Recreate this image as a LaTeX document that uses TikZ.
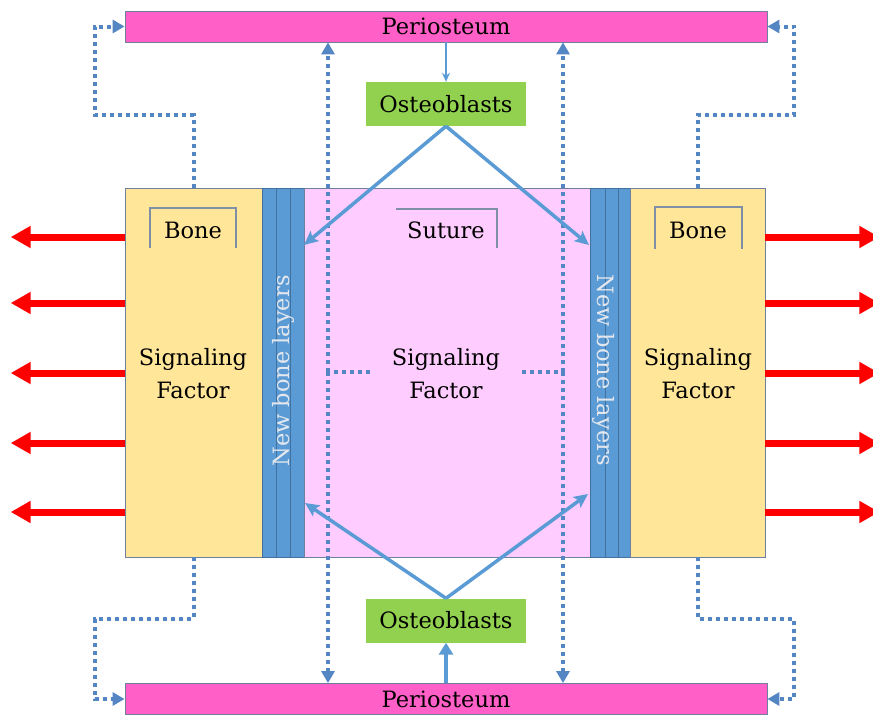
\documentclass[tikz,border=0pt]{standalone}
\usepackage{fontspec}
\setmainfont{DejaVu Serif}
\usetikzlibrary{arrows.meta}
\definecolor{peri}{HTML}{FF5FC6}
\definecolor{osteo}{HTML}{92D050}
\definecolor{bonec}{HTML}{FFE699}
\definecolor{suturec}{HTML}{FFCCFF}
\definecolor{layerc}{HTML}{5B9BD5}
\definecolor{layerline}{HTML}{41719C}
\definecolor{arrowc}{HTML}{5B9BD5}
\definecolor{dotc}{HTML}{5486C4}
\definecolor{edgec}{HTML}{6F7F9F}
\definecolor{bracketc}{HTML}{7F8FA6}
\definecolor{layertext}{HTML}{E4E8EE}
\tikzset{
  txt/.style={font=\fontsize{22.5}{33}\selectfont, text=black, inner sep=0pt},
  periobox/.style={draw=edgec, line width=0.8pt, fill=peri, minimum width=642pt, minimum height=31pt, inner sep=0pt, txt},
  osteobox/.style={fill=osteo, minimum width=160pt, minimum height=44pt, inner sep=0pt, txt},
  blockbox/.style={draw=edgec, line width=0.6pt, minimum height=369pt, inner sep=0pt},
  dotline/.style={draw=dotc, line width=4pt, dash pattern=on 4pt off 4pt},
  dotarrow/.style={dotline, -{Triangle[length=12pt,width=13pt]}},
  bluearrow/.style={draw=arrowc, line width=3.5pt, -{Stealth[length=14pt,width=13pt,inset=3pt]}},
  redarrow/.style={draw=red, line width=7pt, -{Triangle[length=20pt,width=21pt]}},
  bracket/.style={draw=bracketc, line width=1.2pt},
  layerlbl/.style={font=\fontsize{22.5}{26}\selectfont, text=layertext, inner sep=0pt}
}
\begin{document}
\begin{tikzpicture}[x=1pt,y=-1pt]
\useasboundingbox (0,0) rectangle (873,715);
% periosteum
\node[periobox] (ptop) at (446,26.5) {Periosteum};
\node[periobox] (pbot) at (446,699) {Periosteum};
% osteoblasts
\node[osteobox] (otop) at (446,104) {Osteoblasts};
\node[osteobox] (obot) at (446,620.5) {Osteoblasts};
% main block
\node[blockbox, fill=bonec, minimum width=137pt] (lbone) at (193.5,372.5) {};
\node[blockbox, fill=layerc, draw=layerline, minimum width=42pt] (lstrip) at (283,372.5) {};
\node[blockbox, fill=suturec, minimum width=286pt] (suture) at (447,372.5) {};
\node[blockbox, fill=layerc, draw=layerline, minimum width=40pt] (rstrip) at (610,372.5) {};
\node[blockbox, fill=bonec, minimum width=135pt] (rbone) at (697.5,372.5) {};
\draw[layerline, line width=0.8pt] (276,188) -- (276,557) (290,188) -- (290,557)
  (605,188) -- (605,557) (618,188) -- (618,557);
% labels
\node[layerlbl, rotate=90] (llayer) at (283,371) {New bone layers};
\node[layerlbl, rotate=-90] (rlayer) at (604,370) {New bone layers};
\node[txt] (lbonelbl) at (193,230) {Bone};
\node[txt] (rbonelbl) at (698,230) {Bone};
\node[txt] (suturelbl) at (446,230) {Suture};
\node[txt, align=center] (lsig) at (193,374) {Signaling\\Factor};
\node[txt, align=center] (csig) at (446,374) {Signaling\\Factor};
\node[txt, align=center] (rsig) at (698,374) {Signaling\\Factor};
% brackets
\draw[bracket] (150,248) -- (150,208) -- (236,208) -- (236,248);
\draw[bracket] (655,249) -- (655,207) -- (742,207) -- (742,249);
\draw[bracket] (396,209) -- (497,209) -- (497,248);
% dotted signaling paths in suture
\coordinate (hl) at (370,372);
\coordinate (hr) at (522,372);
\coordinate (vl) at (328,372);
\coordinate (vr) at (563,372);
\draw[dotline] (hl) -- (vl);
\draw[dotline] (hr) -- (vr);
\draw[dotarrow] (vl) -- (vl |- ptop.south);
\draw[dotarrow] (vl) -- (vl |- pbot.north);
\draw[dotarrow] (vr) -- (vr |- ptop.south);
\draw[dotarrow] (vr) -- (vr |- pbot.north);
% dotted paths from bone to periosteum
\draw[dotarrow] (lbone.north) |- (95,115) |- (ptop.west);
\draw[dotarrow] (rbone.north) |- (794,115) |- (ptop.east);
\draw[dotarrow] (lbone.south) |- (95,619) |- (pbot.west);
\draw[dotarrow] (rbone.south) |- (794,619) |- (pbot.east);
% periosteum to osteoblasts
\draw[draw=arrowc, line width=1.5pt, -{Stealth[length=9pt,width=8pt]}] (ptop.south) -- (otop.north);
\draw[draw=arrowc, line width=4.5pt, -{Triangle[length=12pt,width=14pt]}] (pbot.north) -- (obot.south);
% osteoblasts to new bone layers
\coordinate (tl) at (304,245);
\coordinate (tr) at (589,245);
\coordinate (bl) at (305,503);
\coordinate (br) at (588,494);
\draw[bluearrow] (otop.south) -- (tl);
\draw[bluearrow] (otop.south) -- (tr);
\draw[bluearrow] (obot.north) -- (bl);
\draw[bluearrow] (obot.north) -- (br);
% red arrows
\foreach \y in {237,303,373,443,512}{
  \draw[redarrow] (lbone.west |- 0,\y) -- ++(-114,0);
  \draw[redarrow] (rbone.east |- 0,\y) -- ++(114,0);
}
\end{tikzpicture}
\end{document}
